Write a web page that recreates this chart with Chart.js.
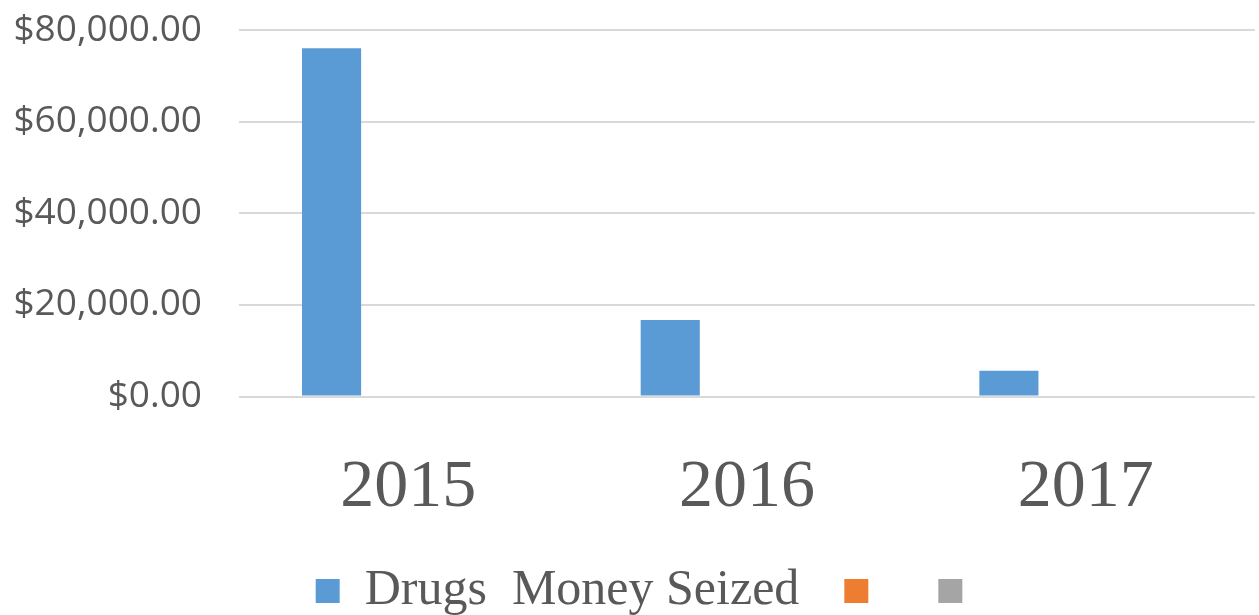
<!DOCTYPE html>
<html lang="en">
<head>
  <meta charset="UTF-8">
  <title>Drugs Money Seized</title>
  <script src="https://cdn.jsdelivr.net/npm/chart.js"></script>
  <style>
    body { margin: 0; background: #fff; }
    #wrap { width: 1259px; height: 615px; }
  </style>
</head>
<body>
  <div id="wrap">
    <canvas id="seizedChart"></canvas>
  </div>

  <script>
    // values
    const years = ['2015', '2016', '2017'];
    const moneySeized = [76000, 16700, 5600];
    const series2 = [null, null, null];
    const series3 = [null, null, null];
    const seriesNames = ['Drugs  Money Seized', '', ''];

    const grey = '#595959';
    const ctx = document.getElementById('seizedChart').getContext('2d');

    // nudge the legend a little to the right, like the original
    const legendShift = {
      id: 'legendShift',
      afterLayout(chart) {
        chart.legend.left += 18;
        chart.legend.right += 18;
      }
    };

    const chart = new Chart(ctx, {
      type: 'bar',
      data: {
        labels: years,
        datasets: [
          { label: seriesNames[0], data: moneySeized, backgroundColor: '#5B9BD5' },
          { label: seriesNames[1], data: series2, backgroundColor: '#ED7D31' },
          { label: seriesNames[2], data: series3, backgroundColor: '#A5A5A5' }
        ]
      },
      options: {
        responsive: true,
        maintainAspectRatio: false,
        animation: false,
        datasets: {
          bar: { barPercentage: 0.77, categoryPercentage: 0.68 }
        },
        layout: { padding: { left: 12, right: 4, top: 30, bottom: -11 } },
        scales: {
          x: {
            grid: { display: false },
            border: { display: false },
            ticks: {
              color: grey,
              padding: 43,
              font: { family: 'Liberation Serif', size: 68 }
            },
            afterFit: s => { s.height = 124.5; }
          },
          y: {
            min: 0,
            max: 80000,
            grid: { color: '#D9D9D9', lineWidth: 2, drawTicks: false },
            border: { display: false },
            ticks: {
              stepSize: 20000,
              color: grey,
              padding: 37,
              font: { family: 'Open Sans', size: 37 },
              callback: v => '$' + v.toLocaleString('en-US', { minimumFractionDigits: 2, maximumFractionDigits: 2 })
            },
            afterFit: s => { s.width = 227; s.paddingTop = 0; s.paddingBottom = 0; }
          }
        },
        plugins: {
          tooltip: { enabled: false },
          legend: {
            position: 'bottom',
            labels: {
              color: grey,
              boxWidth: 24,
              boxHeight: 24,
              padding: 45,
              font: { family: 'Liberation Serif', size: 50 }
            }
          }
        }
      },
      plugins: [legendShift]
    });
  </script>
</body>
</html>
